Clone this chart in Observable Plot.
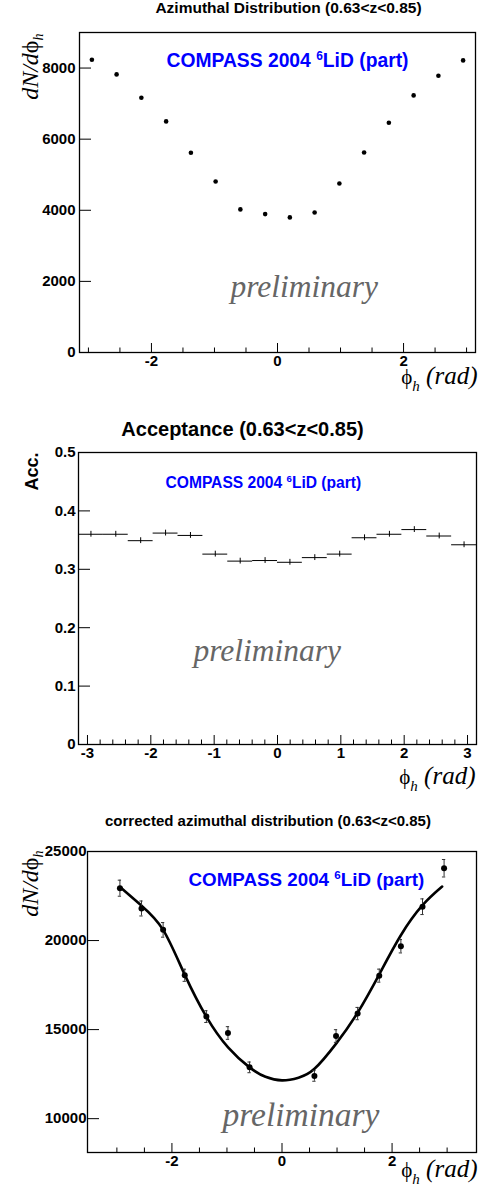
<!DOCTYPE html>
<html><head><meta charset="utf-8">
<script src="https://cdn.jsdelivr.net/npm/d3@7"></script>
<script src="https://cdn.jsdelivr.net/npm/@observablehq/plot@0.6"></script>
<style>body{margin:0;background:#fff;} svg{display:block;}</style>
</head><body><div id="chart"></div>
<script>
// ---------- data ----------
const phi = [-2.945,-2.553,-2.160,-1.767,-1.374,-0.982,-0.589,-0.196,0.196,0.589,0.982,1.374,1.767,2.160,2.553,2.945];
const rawCounts = [8235,7822,7166,6500,5618,4811,4024,3892,3799,3939,4755,5627,6462,7231,7785,8216];
const acceptance = [0.360,0.360,0.349,0.362,0.358,0.326,0.314,0.315,0.312,0.320,0.326,0.354,0.360,0.368,0.357,0.342];
const accErr = [0.005,0.005,0.005,0.005,0.005,0.005,0.005,0.005,0.005,0.005,0.005,0.005,0.005,0.005,0.005,0.005];
const corrPhi = [-2.945,-2.553,-2.160,-1.767,-1.374,-0.982,-0.589,0.589,0.982,1.374,1.767,2.160,2.553,2.945];
const corrCounts = [22940,21800,20600,18050,15730,14810,12880,12400,14640,15900,18030,19680,21900,24060];
const corrErr = [450,420,410,340,330,355,300,300,355,345,365,375,440,490];
const fitPhi = [-2.94,-2.55,-2.16,-1.77,-1.37,-0.98,-0.59,-0.30,0.0,0.30,0.59,0.98,1.37,1.77,2.16,2.55,2.91];
const fitN = [23000,21950,20600,18100,15700,14000,12880,12350,12150,12300,12800,14200,15930,18120,20300,21970,23030];

const p1XMajor = [-2,0,2];
const p1XMinor = [-3,-2.5,-1.5,-1,-0.5,0.5,1,1.5,2.5,3];
const p1YTicks = [0,2000,4000,6000,8000];
const p2XMajor = [-3,-2,-1,0,1,2,3];
const p2XMinor = [-2.8,-2.6,-2.4,-2.2,-1.8,-1.6,-1.4,-1.2,-0.8,-0.6,-0.4,-0.2,0.2,0.4,0.6,0.8,1.2,1.4,1.6,1.8,2.2,2.4,2.6,2.8];
const p2YTicks = [0,0.1,0.2,0.3,0.4,0.5];
const p3XMajor = [-2,0,2];
const p3XMinor = [-3,-2.5,-1.5,-1,-0.5,0.5,1,1.5,2.5,3];
const p3YTicks = [10000,15000,20000,25000];

const title1 = "Azimuthal Distribution (0.63<z<0.85)";
const title2 = "Acceptance (0.63<z<0.85)";
const title3 = "corrected azimuthal distribution (0.63<z<0.85)";
const expText = "COMPASS 2004 6LiD (part)";
const prelim = "preliminary";
const yLab = "dN/dϕh";
const xLab = "ϕh (rad)";
const accLab = "Acc.";

// ---------- tables ----------
const rawData = phi.map((p,i)=>({phi:p, n:rawCounts[i]}));
const halfBin = Math.PI/16;
const accData = phi.map((p,i)=>({phi:p, a:acceptance[i], e:accErr[i]}));
const corrData = corrPhi.map((p,i)=>({phi:p, n:corrCounts[i], e:corrErr[i]}));
const fitData = fitPhi.map((p,i)=>({phi:p, n:fitN[i]}));

const SANS = "'Liberation Sans', Arial, Helvetica, sans-serif";
const SERIF = "'Liberation Serif', 'Times New Roman', 'DejaVu Serif', serif";
const TICKFONT = 15;

function frameParts({height, ml, mr, mt, mb, xMajor, xMinor, yTicks, yPad}) {
  const fw = 478 - ml - mr, fh = height - mt - mb;
  return [
    Plot.tickX(xMajor, {x: d=>d, insetTop: fh - 9, stroke: "black", strokeWidth: 1}),
    Plot.tickX(xMinor, {x: d=>d, insetTop: fh - 4.5, stroke: "black", strokeWidth: 1}),
    Plot.tickY(yTicks, {y: d=>d, insetRight: fw - 12, stroke: "black", strokeWidth: 1}),
    Plot.axisX(xMajor, {tickSize: 0, tickPadding: 3, fontSize: TICKFONT, fontWeight: "bold", tickFormat: d=>String(d), label: null}),
    Plot.axisY(yTicks, {tickSize: 0, tickPadding: yPad, fontSize: TICKFONT, fontWeight: "bold", tickFormat: d=>String(d), label: null}),
    Plot.frame({stroke: "black", strokeWidth: 1.3})
  ];
}

function txt(s, o) { return Plot.text([s], {text: d=>d, lineAnchor: "bottom", ...o}); }

function rich(svg, key, segs) {
  d3.select(svg).selectAll("text").filter(function(){ return this.textContent === key; }).each(function(){
    const t = d3.select(this);
    t.text(null);
    segs.forEach(s => {
      const ts = t.append("tspan").text(s.t);
      if (s.dy) ts.attr("dy", s.dy);
      if (s.fs) ts.attr("font-size", s.fs);
      if (s.style) ts.attr("font-style", s.style);
    });
  });
}
function decorate(svg) {
  rich(svg, expText, [{t:"COMPASS 2004 "},{t:"6", fs:"0.62em", dy:"-0.55em"},{t:"LiD (part)", dy:"0.341em", fs:"1em"}]);
  rich(svg, yLab, [{t:"dN/d", style:"italic"},{t:"ϕ", style:"normal"},{t:"h", style:"italic", fs:"14px", dy:"5px"}]);
  rich(svg, xLab, [{t:"ϕ", style:"normal", fs:"21px"},{t:"h", style:"italic", fs:"15px", dy:"7px"},{t:" (rad)", style:"italic", fs:"25px", dy:"-7px"}]);
  return svg;
}

const chart = document.getElementById("chart");

// ---------- panel 1 ----------
{
  const height = 392, ml = 79, mr = 3, mt = 32, mb = 40;
  const svg = Plot.plot({
    width: 478, height, marginLeft: ml, marginRight: mr, marginTop: mt, marginBottom: mb,
    style: {fontFamily: SANS, background: "white", color: "black"},
    x: {domain: [-Math.PI, Math.PI]},
    y: {domain: [0, 9000]},
    marks: [
      ...frameParts({height, ml, mr, mt, mb, xMajor: p1XMajor, xMinor: p1XMinor, yTicks: p1YTicks, yPad: 4}),
      Plot.dot(rawData, {x: "phi", y: "n", r: 2.3, fill: "black", stroke: null}),
      txt(title1, {frameAnchor: "top", dx: 11, dy: -20, fontSize: 15.5, fontWeight: "bold"}),
      txt(expText, {frameAnchor: "top-left", textAnchor: "start", dx: 87, dy: 34, fontSize: 19.3, fontWeight: "bold", fill: "#0000ff"}),
      txt(prelim, {frameAnchor: "top-left", textAnchor: "start", dx: 151, dy: 264, fontSize: 31.5, fontStyle: "italic", fontFamily: SERIF, fill: "#666"}),
      txt(yLab, {frameAnchor: "top-left", textAnchor: "end", rotate: -90, dx: -42, dy: 1, fontSize: 24, fontFamily: SERIF}),
      txt(xLab, {frameAnchor: "bottom-right", textAnchor: "end", dx: 2, dy: 31, fontSize: 25, fontFamily: SERIF})
    ]
  });
  chart.appendChild(decorate(svg));
}

// ---------- panel 2 ----------
{
  const height = 400, ml = 78, mr = 2, mt = 60, mb = 48;
  const svg = Plot.plot({
    width: 478, height, marginLeft: ml, marginRight: mr, marginTop: mt, marginBottom: mb,
    style: {fontFamily: SANS, background: "white", color: "black"},
    x: {domain: [-Math.PI, Math.PI]},
    y: {domain: [0, 0.5]},
    marks: [
      ...frameParts({height, ml, mr, mt, mb, xMajor: p2XMajor, xMinor: p2XMinor, yTicks: p2YTicks, yPad: 3}),
      Plot.ruleY(accData, {y: "a", x1: d=>d.phi - halfBin, x2: d=>d.phi + halfBin, stroke: "black", strokeWidth: 1}),
      Plot.ruleX(accData, {x: "phi", y1: d=>d.a - d.e, y2: d=>d.a + d.e, stroke: "black", strokeWidth: 1}),
      txt(title2, {frameAnchor: "top", dx: -35, dy: -17, fontSize: 20, fontWeight: "bold"}),
      txt(expText, {frameAnchor: "top-left", textAnchor: "start", dx: 87, dy: 35, fontSize: 15.6, fontWeight: "bold", fill: "#0000ff"}),
      txt(prelim, {frameAnchor: "top-left", textAnchor: "start", dx: 115, dy: 208, fontSize: 31.5, fontStyle: "italic", fontFamily: SERIF, fill: "#666"}),
      txt(accLab, {frameAnchor: "top-left", textAnchor: "end", rotate: -90, dx: -41, dy: 0, fontSize: 18, fontWeight: "bold"}),
      txt(xLab, {frameAnchor: "bottom-right", textAnchor: "end", dx: -1, dy: 39, fontSize: 25, fontFamily: SERIF})
    ]
  });
  chart.appendChild(decorate(svg));
}

// ---------- panel 3 ----------
{
  const height = 398, ml = 87, mr = 2, mt = 59, mb = 38;
  const svg = Plot.plot({
    width: 478, height, marginLeft: ml, marginRight: mr, marginTop: mt, marginBottom: mb,
    style: {fontFamily: SANS, background: "white", color: "black"},
    x: {domain: [-3.534, 3.534]},
    y: {domain: [8100, 25000]},
    marks: [
      ...frameParts({height, ml, mr, mt, mb, xMajor: p3XMajor, xMinor: p3XMinor, yTicks: p3YTicks, yPad: 1}),
      Plot.line(fitData, {x: "phi", y: "n", curve: "natural", stroke: "black", strokeWidth: 2.6}),
      Plot.ruleX(corrData, {x: "phi", y1: d=>d.n - d.e, y2: d=>d.n + d.e, stroke: "#333", strokeWidth: 1}),
      Plot.ruleY(corrData, {y: d=>d.n - d.e, x1: d=>d.phi - 0.03, x2: d=>d.phi + 0.03, stroke: "#333", strokeWidth: 1}),
      Plot.ruleY(corrData, {y: d=>d.n + d.e, x1: d=>d.phi - 0.03, x2: d=>d.phi + 0.03, stroke: "#333", strokeWidth: 1}),
      Plot.dot(corrData, {x: "phi", y: "n", r: 3, fill: "black", stroke: null}),
      txt(title3, {frameAnchor: "top", dx: -14, dy: -26, fontSize: 15, fontWeight: "bold"}),
      txt(expText, {frameAnchor: "top-left", textAnchor: "start", dx: 101, dy: 34, fontSize: 18.8, fontWeight: "bold", fill: "#0000ff"}),
      txt(prelim, {frameAnchor: "top-left", textAnchor: "start", dx: 135, dy: 274, fontSize: 33.5, fontStyle: "italic", fontFamily: SERIF, fill: "#666"}),
      txt(yLab, {frameAnchor: "top-left", textAnchor: "end", rotate: -90, dx: -50, dy: -1, fontSize: 24, fontFamily: SERIF}),
      txt(xLab, {frameAnchor: "bottom-right", textAnchor: "end", dx: 1, dy: 24, fontSize: 25, fontFamily: SERIF})
    ]
  });
  chart.appendChild(decorate(svg));
}
</script>
</body></html>
